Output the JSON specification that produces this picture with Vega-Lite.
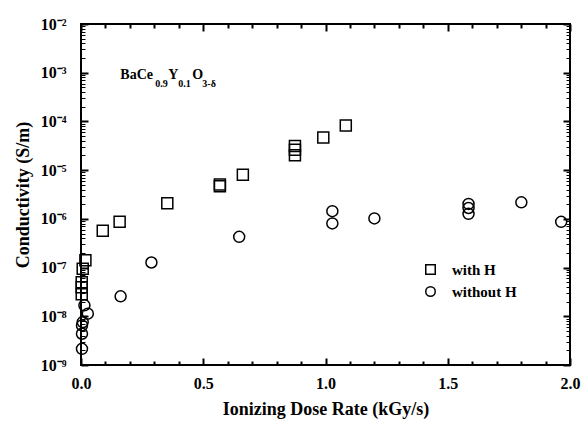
{
  "$schema": "https://vega.github.io/schema/vega-lite/v6.json",
  "width": 489,
  "height": 341,
  "autosize": "none",
  "padding": {"left": 81, "top": 24, "right": 15, "bottom": 56},
  "background": "white",
  "config": {
    "view": {"stroke": "black", "strokeWidth": 2},
    "font": "Liberation Serif",
    "axis": {
      "grid": false,
      "domain": false,
      "labelFont": "Liberation Serif",
      "labelFontWeight": "bold",
      "titleFont": "Liberation Serif",
      "titleFontWeight": "bold",
      "labelColor": "black",
      "titleColor": "black",
      "tickColor": "black",
      "labelOverlap": false,
      "labelFlush": false
    },
    "legend": {
      "labelFont": "Liberation Serif",
      "labelFontWeight": "bold",
      "labelFontSize": 15,
      "labelColor": "black"
    }
  },
  "datasets": {
    "points": [
      {"dose": 0.018, "sigma": 1.42e-7, "series": "with H"},
      {"dose": 0.007, "sigma": 9.5e-8, "series": "with H"},
      {"dose": 0.003, "sigma": 4.99e-8, "series": "with H"},
      {"dose": 0.003, "sigma": 3.94e-8, "series": "with H"},
      {"dose": 0.003, "sigma": 2.83e-8, "series": "with H"},
      {"dose": 0.089, "sigma": 5.7e-7, "series": "with H"},
      {"dose": 0.158, "sigma": 8.7e-7, "series": "with H"},
      {"dose": 0.353, "sigma": 2.08e-6, "series": "with H"},
      {"dose": 0.568, "sigma": 5.08e-6, "series": "with H"},
      {"dose": 0.568, "sigma": 4.69e-6, "series": "with H"},
      {"dose": 0.662, "sigma": 8.09e-6, "series": "with H"},
      {"dose": 0.875, "sigma": 3.12e-5, "series": "with H"},
      {"dose": 0.875, "sigma": 2.61e-5, "series": "with H"},
      {"dose": 0.875, "sigma": 2.01e-5, "series": "with H"},
      {"dose": 0.991, "sigma": 4.67e-5, "series": "with H"},
      {"dose": 1.083, "sigma": 8.24e-5, "series": "with H"},
      {"dose": 0.014, "sigma": 1.68e-8, "series": "without H"},
      {"dose": 0.028, "sigma": 1.13e-8, "series": "without H"},
      {"dose": 0.007, "sigma": 7.6e-9, "series": "without H"},
      {"dose": 0.004, "sigma": 6.5e-9, "series": "without H"},
      {"dose": 0.004, "sigma": 4.38e-9, "series": "without H"},
      {"dose": 0.004, "sigma": 2.15e-9, "series": "without H"},
      {"dose": 0.162, "sigma": 2.57e-8, "series": "without H"},
      {"dose": 0.288, "sigma": 1.27e-7, "series": "without H"},
      {"dose": 0.647, "sigma": 4.28e-7, "series": "without H"},
      {"dose": 1.028, "sigma": 1.44e-6, "series": "without H"},
      {"dose": 1.028, "sigma": 8.07e-7, "series": "without H"},
      {"dose": 1.2, "sigma": 1.02e-6, "series": "without H"},
      {"dose": 1.585, "sigma": 2.03e-6, "series": "without H"},
      {"dose": 1.585, "sigma": 1.67e-6, "series": "without H"},
      {"dose": 1.585, "sigma": 1.27e-6, "series": "without H"},
      {"dose": 1.801, "sigma": 2.18e-6, "series": "without H"},
      {"dose": 1.964, "sigma": 8.7e-7, "series": "without H"}
    ]
  },
  "layer": [
    {
      "data": {"name": "points"},
      "mark": {"type": "point", "filled": false, "color": "black", "strokeWidth": 1.5, "size": 121, "opacity": 1},
      "encoding": {
        "x": {
          "field": "dose", "type": "quantitative",
          "scale": {"domain": [0, 2], "nice": false, "zero": false},
          "axis": {
            "orient": "bottom",
            "title": "Ionizing Dose Rate (kGy/s)",
            "titleFontSize": 18,
            "titlePadding": 6,
            "labelFontSize": 16,
            "values": [0, 0.1, 0.2, 0.3, 0.4, 0.5, 0.6, 0.7, 0.8, 0.9, 1, 1.1, 1.2, 1.3, 1.4, 1.5, 1.6, 1.7, 1.8, 1.9, 2],
            "labelExpr": "abs(datum.value*2 - round(datum.value*2)) < 0.001 ? format(datum.value, '.1f') : ''",
            "tickSize": {"condition": {"test": "abs(datum.value*2 - round(datum.value*2)) < 0.001", "value": -7}, "value": -4},
            "tickWidth": 2,
            "labelPadding": 17
          }
        },
        "y": {
          "field": "sigma", "type": "quantitative",
          "scale": {"type": "log", "domain": [1e-9, 1e-2], "nice": false},
          "axis": {
            "orient": "left",
            "title": "Conductivity (S/m)",
            "titleFontSize": 18,
            "titlePadding": 8,
            "labelFontSize": 16,
            "values": [1e-9, 2e-9, 3e-9, 4e-9, 5e-9, 6e-9, 7e-9, 8e-9, 9e-9, 1e-8, 2e-8, 3e-8, 4e-8, 5e-8, 6e-8, 7e-8, 8e-8, 9e-8, 1e-7, 2e-7, 3e-7, 4e-7, 5e-7, 6e-7, 7e-7, 8e-7, 9e-7, 1e-6, 2e-6, 3e-6, 4e-6, 5e-6, 6e-6, 7e-6, 8e-6, 9e-6, 1e-5, 2e-5, 3e-5, 4e-5, 5e-5, 6e-5, 7e-5, 8e-5, 9e-5, 1e-4, 2e-4, 3e-4, 4e-4, 5e-4, 6e-4, 7e-4, 8e-4, 9e-4, 1e-3, 2e-3, 3e-3, 4e-3, 5e-3, 6e-3, 7e-3, 8e-3, 9e-3, 1e-2],
            "labelExpr": "abs(log(datum.value)/LN10 - round(log(datum.value)/LN10)) < 0.01 ? '10⁻' + substring('⁰¹²³⁴⁵⁶⁷⁸⁹', -round(log(datum.value)/LN10), 1 - round(log(datum.value)/LN10)) : ''",
            "tickSize": {"condition": {"test": "abs(log(datum.value)/LN10 - round(log(datum.value)/LN10)) < 0.01", "value": -7}, "value": -4},
            "tickWidth": {"condition": {"test": "abs(log(datum.value)/LN10 - round(log(datum.value)/LN10)) < 0.01", "value": 2}, "value": 1},
            "labelPadding": 22
          }
        },
        "shape": {
          "field": "series", "type": "nominal",
          "scale": {"domain": ["with H", "without H"], "range": ["square", "circle"]},
          "legend": {
            "title": null,
            "orient": "none",
            "legendX": 342,
            "legendY": 238,
            "padding": 0,
            "symbolSize": 90,
            "symbolStrokeWidth": 1.5,
            "symbolStrokeColor": "black",
            "rowPadding": 5,
            "labelOffset": 14
          }
        }
      }
    },
    {
      "data": {"values": [{"x": 0.161, "y": 0.000745, "t": "BaCe"}]},
      "mark": {"type": "text", "align": "left", "baseline": "alphabetic", "font": "Liberation Serif", "fontWeight": "bold", "fontSize": 14, "color": "black"},
      "encoding": {
        "x": {
          "field": "x", "type": "quantitative",
          "scale": {"domain": [0, 2], "nice": false, "zero": false},
          "axis": {
            "orient": "top", "title": null, "labels": false,
            "values": [0, 0.1, 0.2, 0.3, 0.4, 0.5, 0.6, 0.7, 0.8, 0.9, 1, 1.1, 1.2, 1.3, 1.4, 1.5, 1.6, 1.7, 1.8, 1.9, 2],
            "tickSize": {"condition": {"test": "abs(datum.value*2 - round(datum.value*2)) < 0.001", "value": -7}, "value": -4},
            "tickWidth": 2
          }
        },
        "y": {
          "field": "y", "type": "quantitative",
          "scale": {"type": "log", "domain": [1e-9, 1e-2], "nice": false},
          "axis": {
            "orient": "right", "title": null, "labels": false,
            "values": [1e-9, 2e-9, 3e-9, 4e-9, 5e-9, 6e-9, 7e-9, 8e-9, 9e-9, 1e-8, 2e-8, 3e-8, 4e-8, 5e-8, 6e-8, 7e-8, 8e-8, 9e-8, 1e-7, 2e-7, 3e-7, 4e-7, 5e-7, 6e-7, 7e-7, 8e-7, 9e-7, 1e-6, 2e-6, 3e-6, 4e-6, 5e-6, 6e-6, 7e-6, 8e-6, 9e-6, 1e-5, 2e-5, 3e-5, 4e-5, 5e-5, 6e-5, 7e-5, 8e-5, 9e-5, 1e-4, 2e-4, 3e-4, 4e-4, 5e-4, 6e-4, 7e-4, 8e-4, 9e-4, 1e-3, 2e-3, 3e-3, 4e-3, 5e-3, 6e-3, 7e-3, 8e-3, 9e-3, 1e-2],
            "tickSize": {"condition": {"test": "abs(log(datum.value)/LN10 - round(log(datum.value)/LN10)) < 0.01", "value": -7}, "value": -4},
            "tickWidth": {"condition": {"test": "abs(log(datum.value)/LN10 - round(log(datum.value)/LN10)) < 0.01", "value": 2}, "value": 1}
          }
        },
        "text": {"field": "t"}
      }
    },
    {
      "data": {"values": [{"x": 0.161, "y": 0.000745, "t": "0.9"}]},
      "mark": {"type": "text", "align": "left", "baseline": "alphabetic", "dx": 35, "dy": 8, "font": "Liberation Serif", "fontWeight": "bold", "fontSize": 10, "color": "black"},
      "encoding": {
        "x": {"field": "x", "type": "quantitative", "axis": null},
        "y": {"field": "y", "type": "quantitative", "axis": null},
        "text": {"field": "t"}
      }
    },
    {
      "data": {"values": [{"x": 0.161, "y": 0.000745, "t": "Y"}]},
      "mark": {"type": "text", "align": "left", "baseline": "alphabetic", "dx": 48, "font": "Liberation Serif", "fontWeight": "bold", "fontSize": 14, "color": "black"},
      "encoding": {
        "x": {"field": "x", "type": "quantitative", "axis": null},
        "y": {"field": "y", "type": "quantitative", "axis": null},
        "text": {"field": "t"}
      }
    },
    {
      "data": {"values": [{"x": 0.161, "y": 0.000745, "t": "0.1"}]},
      "mark": {"type": "text", "align": "left", "baseline": "alphabetic", "dx": 58, "dy": 8, "font": "Liberation Serif", "fontWeight": "bold", "fontSize": 10, "color": "black"},
      "encoding": {
        "x": {"field": "x", "type": "quantitative", "axis": null},
        "y": {"field": "y", "type": "quantitative", "axis": null},
        "text": {"field": "t"}
      }
    },
    {
      "data": {"values": [{"x": 0.161, "y": 0.000745, "t": "O"}]},
      "mark": {"type": "text", "align": "left", "baseline": "alphabetic", "dx": 72, "font": "Liberation Serif", "fontWeight": "bold", "fontSize": 14, "color": "black"},
      "encoding": {
        "x": {"field": "x", "type": "quantitative", "axis": null},
        "y": {"field": "y", "type": "quantitative", "axis": null},
        "text": {"field": "t"}
      }
    },
    {
      "data": {"values": [{"x": 0.161, "y": 0.000745, "t": "3-δ"}]},
      "mark": {"type": "text", "align": "left", "baseline": "alphabetic", "dx": 82, "dy": 8, "font": "Liberation Serif", "fontWeight": "bold", "fontSize": 10, "color": "black"},
      "encoding": {
        "x": {"field": "x", "type": "quantitative", "axis": null},
        "y": {"field": "y", "type": "quantitative", "axis": null},
        "text": {"field": "t"}
      }
    }
  ],
  "resolve": {"axis": {"x": "independent", "y": "independent"}}
}
